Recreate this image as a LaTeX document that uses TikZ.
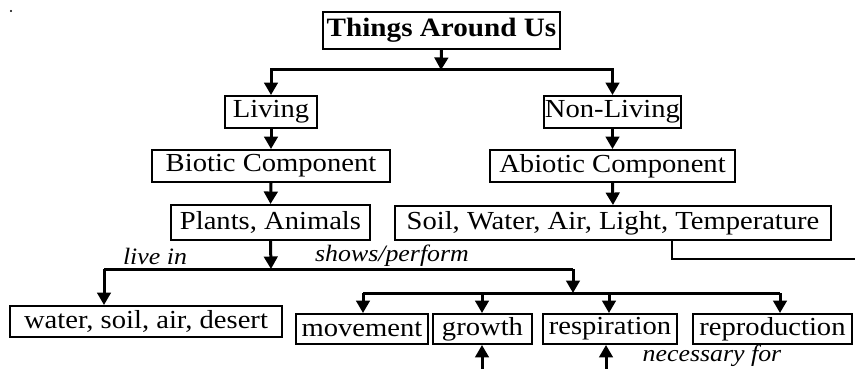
\documentclass[tikz,border=0pt]{standalone}
\usepackage{fontspec}
\setmainfont[FakeStretch=1.1]{Liberation Serif}
\usetikzlibrary{arrows.meta}
\begin{document}
\begin{tikzpicture}[x=1pt,y=-1pt,
  box/.style={draw,line width=1.9pt,inner sep=0pt,font=\fontsize{26}{30}\selectfont},
  lnk/.style={line width=3pt},
  arr/.style={lnk,-{Triangle[width=13.5pt,length=12.5pt]}},
  lbl/.style={font=\fontsize{23.5}{27}\selectfont\itshape}]
\useasboundingbox (0,0) rectangle (855,369);
\fill (11,11) circle (1.1pt);
% nodes
\node[box,minimum width=237pt,minimum height=37pt,font=\fontsize{26.5}{30}\selectfont\bfseries] (title) at (441.5,30.5) {Things Around Us};
\node[box,minimum width=92pt,minimum height=32pt] (living) at (271,112) {Living};
\node[box,minimum width=137pt,minimum height=32pt] (nonliving) at (612.5,112) {Non-Living};
\node[box,minimum width=238pt,minimum height=32pt] (biotic) at (271,166) {Biotic Component};
\node[box,minimum width=245pt,minimum height=32pt] (abiotic) at (612.5,166) {Abiotic Component};
\node[box,minimum width=199pt,minimum height=35pt] (plants) at (270.5,222.5) {Plants, Animals};
\node[box,minimum width=436pt,minimum height=34pt] (soil) at (613,223) {Soil, Water, Air, Light, Temperature};
\node[box,minimum width=272pt,minimum height=31pt] (water) at (146,321.5) {water, soil, air, desert};
\node[box,minimum width=132pt,minimum height=30pt] (movement) at (362,329) {movement};
\node[box,minimum width=99pt,minimum height=30pt] (growth) at (482.5,329) {growth};
\node[box,minimum width=134pt,minimum height=30pt] (respiration) at (610,329) {respiration};
\node[box,minimum width=159pt,minimum height=30pt] (reproduction) at (772.5,329) {reproduction};
% labels
\node[lbl] (livein) at (155,256) {live in};
\node[lbl] (shows) at (392,256) {shows/perform};
\node[lbl] (nec) at (712,356) {necessary for};
% connectors
\coordinate (j1) at (441,70);
\draw[arr] (title.south) -- (j1);
\draw[arr] (j1) -| (living.north);
\draw[arr] (j1) -| (nonliving.north);
\draw[arr] (living.south) -- (biotic.north);
\draw[arr] (biotic.south) -- (plants.north);
\draw[arr] (nonliving.south) -- (abiotic.north);
\draw[arr] (abiotic.south) -- (soil.north);
\coordinate (sr) at (672,0);
\coordinate (edgeR) at (855,259);
\draw[lnk,line width=2.6pt] (sr |- soil.south) |- (edgeR);
\coordinate (j2) at (271,269);
\coordinate (jl) at (104,269);
\coordinate (jr) at (573,269);
\draw[arr] (plants.south) -- (j2);
\draw[lnk] (jl) -- (jr);
\draw[arr] (jl) -- (jl |- water.north);
\coordinate (j3) at (573,293);
\draw[arr] (jr) -- (j3);
\coordinate (k1) at (363,293);
\coordinate (k2) at (482,293);
\coordinate (k3) at (609,293);
\coordinate (k4) at (780,293);
\draw[lnk] (k1) -- (k4);
\draw[arr] (k1) -- (k1 |- movement.north);
\draw[arr] (k2) -- (k2 |- growth.north);
\draw[arr] (k3) -- (k3 |- respiration.north);
\draw[arr] (k4) -- (k4 |- reproduction.north);
\coordinate (b1) at (482,369);
\coordinate (b2) at (606,369);
\draw[arr] (b1) -- (b1 |- growth.south);
\draw[arr] (b2) -- (b2 |- respiration.south);
\end{tikzpicture}
\end{document}
